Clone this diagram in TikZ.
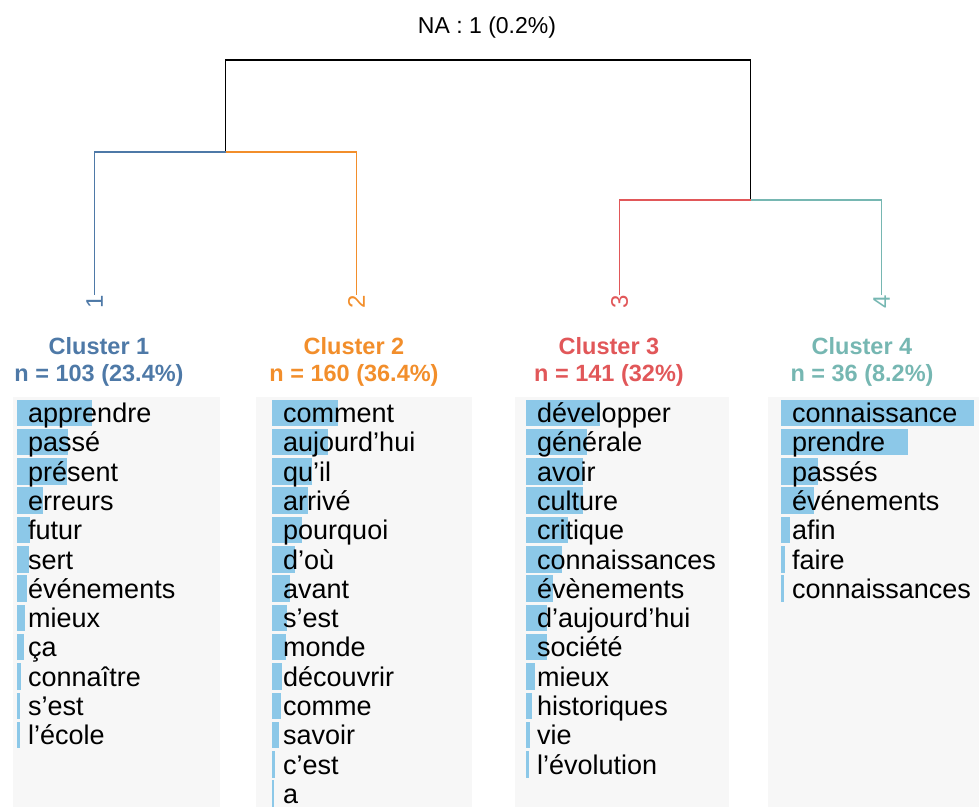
\documentclass[tikz,border=0pt]{standalone}
\usepackage{fontspec}
\setmainfont{Liberation Sans}
\usetikzlibrary{trees}

\definecolor{cluA}{HTML}{4E79A7}
\definecolor{cluB}{HTML}{F28E2B}
\definecolor{cluC}{HTML}{E15759}
\definecolor{cluD}{HTML}{76B7B2}
\definecolor{barblue}{HTML}{8CC8E8}
\definecolor{panelgrey}{HTML}{F7F7F7}

\tikzset{
  panel/.style={fill=panelgrey},
  bar/.style={fill=barblue},
  word/.style={anchor=base west, inner sep=0pt, font=\fontsize{27}{29}\selectfont},
  heading/.style={anchor=base, inner sep=0pt, font=\fontsize{23.5}{27}\selectfont\bfseries},
  leaflabel/.style={rotate=90, anchor=east, inner sep=0pt, font=\fontsize{24}{24}\selectfont}
}

\begin{document}
\begin{tikzpicture}[x=1pt, y=-1pt,
  edge from parent/.style={draw, line width=1.6pt},
  edge from parent path={(\tikzparentnode) -| (\tikzchildnode)},
  level 1/.style={sibling distance=525pt},
  level 2/.style={sibling distance=262pt}]
  \useasboundingbox (0,0) rectangle (979,807);

  \node[anchor=base, font=\fontsize{23}{27}\selectfont] (na) at (487,33) {NA : 1 (0.2\%)};

  % dendrogram
  \node[coordinate] (root) at (488,60) {}
    child[level distance=92pt] {coordinate (mAB)
      child[cluA, level distance=143pt] {node[leaflabel] (leafA) {1}}
      child[cluB, level distance=143pt] {node[leaflabel] (leafB) {2}}
    }
    child[level distance=140pt] {coordinate (mCD)
      child[cluC, level distance=95pt] {node[leaflabel] (leafC) {3}}
      child[cluD, level distance=95pt] {node[leaflabel] (leafD) {4}}
    };

  % headings
  \node[heading, text=cluA] (hA) at (99,354) {Cluster 1};
  \node[heading, text=cluA] (nA) at (99,381) {n = 103 (23.4\%)};
  \node[heading, text=cluB] (hB) at (354,354) {Cluster 2};
  \node[heading, text=cluB] (nB) at (354,381) {n = 160 (36.4\%)};
  \node[heading, text=cluC] (hC) at (609,354) {Cluster 3};
  \node[heading, text=cluC] (nC) at (609,381) {n = 141 (32\%)};
  \node[heading, text=cluD] (hD) at (862,354) {Cluster 4};
  \node[heading, text=cluD] (nD) at (862,381) {n = 36 (8.2\%)};

  % panels
  \fill[panel] (13,397) rectangle (220,807);
  \fill[panel] (256,397) rectangle (472,807);
  \fill[panel] (515,397) rectangle (729,807);
  \fill[panel] (768,397) rectangle (979,807);

  % cluster 1
  \foreach \w/\len [count=\i from 0] in {apprendre/75, passé/51, présent/50,
      erreurs/26, futur/13, sert/12, événements/10, mieux/8, ça/7,
      connaître/4, s'est/3, l'école/2.5} {
    \fill[bar] (17,{399.5+29.3*\i}) rectangle ++(\len,26.5);
    \node[word] (wA\i) at (28,{422.5+29.3*\i}) {\w};
  }

  % cluster 2
  \foreach \w/\len [count=\i from 0] in {comment/66, aujourd'hui/56, qu'il/40,
      arrivé/36, pourquoi/30, d'où/23, avant/18, s'est/15, monde/14,
      découvrir/10, comme/9, savoir/7, c'est/3, a/2} {
    \fill[bar] (272,{399.5+29.3*\i}) rectangle ++(\len,26.5);
    \node[word] (wB\i) at (283,{422.5+29.3*\i}) {\w};
  }

  % cluster 3
  \foreach \w/\len [count=\i from 0] in {développer/74, générale/61, avoir/57,
      culture/57, critique/42, connaissances/36, évènements/27,
      d'aujourd'hui/21, société/21, mieux/9, historiques/6, vie/4,
      l'évolution/3} {
    \fill[bar] (526,{399.5+29.3*\i}) rectangle ++(\len,26.5);
    \node[word] (wC\i) at (537,{422.5+29.3*\i}) {\w};
  }

  % cluster 4
  \foreach \w/\len [count=\i from 0] in {connaissance/193, prendre/127,
      passés/37, événements/33, afin/9, faire/4, connaissances/3} {
    \fill[bar] (781,{399.5+29.3*\i}) rectangle ++(\len,26.5);
    \node[word] (wD\i) at (792,{422.5+29.3*\i}) {\w};
  }
\end{tikzpicture}
\end{document}
